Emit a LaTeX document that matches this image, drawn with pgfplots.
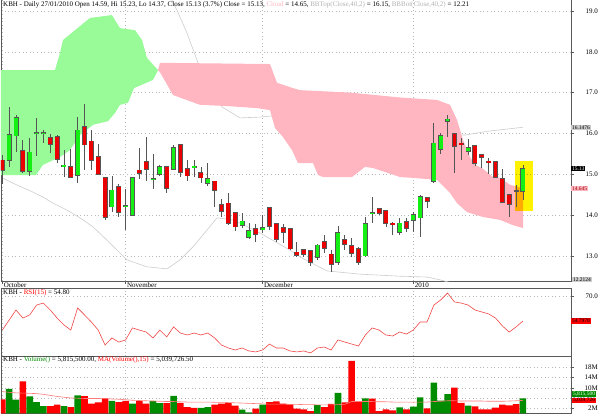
\documentclass[border=0pt]{standalone}
\usepackage{pgfplots}
\usepackage{pgfplotstable}
\pgfplotsset{compat=1.18}
\usepackage{fontspec}
\setmainfont{Liberation Serif}

\definecolor{cgreen}{RGB}{20,240,20}
\definecolor{cred}{RGB}{235,0,0}
\definecolor{vgreen}{RGB}{0,140,0}
\definecolor{vred}{RGB}{255,0,0}
\definecolor{cloudgreen}{RGB}{152,251,152}
\definecolor{cloudpink}{RGB}{255,182,193}
\definecolor{bbgray}{RGB}{205,205,205}
\definecolor{wick}{RGB}{85,85,85}
\definecolor{rsired}{RGB}{240,70,70}
\definecolor{mapink}{RGB}{255,120,120}

\newcommand\ttl{\fontsize{7}{8}\selectfont}
\newcommand\tagf{\fontsize{5.5}{6}\selectfont}

% i = trading day from early Oct 2009, o h l c = price, v = volume (M), vc = volume colour (1 up)
% r = RSI(15), m = MA(volume,15) in M
\pgfplotstableread{
i  o     h     l     c     v     vc r    m
0  15.34 15.47 14.76 15.10 5.4   0  49.3 8.5
1  15.34 16.65 15.18 15.96 9.6   1  55.4 8.2
2  15.94 16.45 15.54 16.38 5.3   1  61.5 8.0
3  15.57 15.84 15.03 15.08 12.5  0  56.6 7.9
4  15.08 15.89 14.96 15.54 6.6   1  58.5 7.8
5  16.00 16.38 15.45 16.02 4.4   1  64.5 7.7
6  16.00 16.08 15.76 16.02 2.8   1  65.7 7.4
7  15.89 15.99 15.52 15.74 2.8   0  61.5 7.0
8  15.91 15.96 15.27 15.37 3.4   0  56.6 6.6
9  15.20 15.59 14.93 15.22 2.8   1  52.4 6.3
10 15.18 15.62 14.92 14.93 2.45  0  49.3 6.0
11 14.98 16.40 14.78 16.08 7.0   1  62.7 5.9
12 16.16 16.72 15.10 15.72 6.7   0  58.5 5.8
13 15.81 16.08 15.10 15.35 3.75  0  54.2 5.8
14 15.42 15.74 14.98 15.00 4.3   0  49.3 5.8
15 14.91 14.93 13.88 13.95 5.8   0  40.2 5.7
16 14.20 14.96 14.07 14.61 4.9   1  44.5 5.6
17 14.69 14.76 13.95 14.07 4.4   0  42.0 5.5
18 14.22 14.64 13.63 14.23 4.9   0  43.3 5.3
19 14.00 14.93 13.99 14.91 3.75  1  50.6 5.1
20 15.10 15.64 14.88 15.03 4.9   0  49.3 5.0
21 15.30 15.91 14.83 15.13 3.75  0  48.1 4.9
22 14.88 15.50 14.64 14.89 4.9   1  44.5 4.8
23 15.00 15.23 14.96 15.18 4.0   1  49.3 4.7
24 15.18 15.19 14.54 14.66 4.0   0  45.1 4.6
25 15.13 15.72 15.10 15.64 6.8   1  51.2 4.6
26 15.72 15.73 14.93 15.05 4.1   0  47.5 4.5
27 15.13 15.35 14.83 14.96 2.45  0  46.3 4.4
28 15.17 15.35 14.93 15.19 2.1   0  47.5 4.4
29 15.03 15.18 14.78 14.91 2.1   1  46.3 4.4
30 14.78 15.27 14.71 14.88 2.45  1  47.5 4.4
31 14.83 14.84 14.20 14.61 3.4   0  44.5 4.3
32 14.25 14.39 13.95 14.10 3.75  0  40.2 4.3
33 14.29 14.54 13.75 13.80 4.0   0  38.4 4.2
34 14.05 14.06 13.61 13.71 3.0   0  37.2 4.1
35 13.75 14.05 13.68 13.85 1.4   1  38.4 4.0
36 13.46 13.80 13.41 13.61 0.4   1  36.6 3.9
37 13.66 13.78 13.34 13.53 1.8   0  36.0 3.8
38 13.64 14.00 13.56 13.68 3.4   1  37.2 3.7
39 14.17 14.20 13.63 13.73 4.4   0  40.8 3.6
40 13.78 13.80 13.34 13.41 4.65  0  38.4 3.6
41 13.68 13.78 13.31 13.58 3.75  0  38.4 3.6
42 13.66 13.68 13.14 13.17 3.5   0  36.6 3.5
43 13.09 13.34 12.97 13.02 1.8   0  36.0 3.5
44 13.14 13.17 12.97 13.04 1.55  0  36.6 3.4
45 13.12 13.14 12.75 12.85 0.9   0  35.4 3.4
46 12.97 13.29 12.90 13.26 3.2   1  38.4 3.3
47 13.34 13.51 13.07 13.19 2.45  0  39.0 3.3
48 13.04 13.14 12.60 12.80 3.7   0  37.2 3.3
49 12.85 13.73 12.78 13.56 8.0   1  43.3 3.4
50 13.39 13.51 13.14 13.29 4.3   0  42.0 3.5
51 13.24 13.44 12.97 13.07 20.5  0  40.8 4.6
52 13.17 13.22 12.78 12.85 4.65  0  39.6 4.6
53 13.00 13.95 12.97 13.78 5.8   1  46.3 4.6
54 14.05 14.44 13.80 14.06 5.7   0  50.6 4.6
55 14.15 14.17 14.00 14.05 0.9   0  49.3 4.5
56 14.10 14.10 13.71 13.80 1.55  0  46.3 4.5
57 13.80 13.83 13.51 13.78 1.16  0  45.7 4.4
58 13.58 13.93 13.51 13.80 2.3   1  48.1 4.4
59 13.83 13.93 13.58 13.68 1.55  0  46.9 4.4
60 13.88 14.07 13.58 14.00 2.6   1  49.3 4.4
61 13.93 14.49 13.46 14.44 6.2   1  54.2 4.4
62 14.42 14.44 14.17 14.34 1.9   0  54.2 4.4
63 14.83 16.25 14.78 15.76 12.0  1  64.5 4.6
64 15.62 16.01 15.50 15.94 5.0   1  67.6 4.7
65 16.30 16.45 15.91 16.35 7.5   1  71.8 4.9
66 15.99 16.00 15.03 15.69 10.0  0  66.4 4.9
67 15.76 15.89 15.35 15.74 4.1   0  65.7 4.8
68 15.57 15.86 15.47 15.64 3.0   1  64.5 4.8
69 15.69 15.70 15.20 15.27 2.7   0  61.5 4.8
70 15.47 15.50 15.15 15.42 1.55  0  60.3 4.8
71 15.32 15.40 15.00 15.30 1.55  0  59.1 4.7
72 15.30 15.32 14.91 14.93 2.2   0  56.6 4.7
73 14.88 15.13 14.29 14.32 3.4   0  51.8 4.7
74 14.49 14.51 13.95 14.27 3.1   0  48.1 4.8
75 14.59 14.74 14.20 14.59 3.6   0  51.2 4.9
76 14.59 15.23 14.37 15.13 5.82  1  54.8 5.04
}\kbh

\pgfplotsset{
  kbhpanel/.style={
    scale only axis, width=570pt, xmin=-0.19, xmax=83.02,
    anchor=north west,
    axis line style={gray!70!black, line width=0.5pt},
    tick align=outside, major tick length=3pt,
    tick style={gray!70!black, line width=0.4pt},
    xtick={0,18,38,60}, xmajorgrids, ymajorgrids,
    major grid style={gray!55, dash pattern=on 0.6pt off 3pt},
    ytick pos=right, xtick pos=bottom,
    yticklabel style={font=\ttl, anchor=east, inner sep=0pt, xshift=24pt},
  },
}

\begin{document}
\begin{tikzpicture}[x=1pt,y=1pt]
\useasboundingbox (0pt,0pt) rectangle (600pt,-416pt);

% price panel
\begin{axis}[kbhpanel, at={(1pt,1pt)}, height=282pt,
    ymin=12.382, ymax=19.294,
    ytick={13,14,...,19}, yticklabels={13.0,14.0,15.0,16.0,17.0,18.0,19.0},
    xticklabels={October,November,December,2010},
    xticklabel style={font=\ttl, anchor=north west, inner sep=0pt, xshift=1.3pt, yshift=1.5pt}]
% Bollinger bands (40,2)
\addplot[bbgray, line width=0.6pt] coordinates {
  (15,20.0) (22,19.6) (24.5,19.35) (25.5,19.02) (26.96,18.46) (28.57,17.73)
  (29.9,17.2) (31.05,16.94) (32.07,16.65) (34.7,16.38) (37.62,16.40) (39.52,16.43)
  (43.46,16.33) (50.76,16.2) (58.06,16.1) (63.9,15.97) (67.55,15.96) (71.2,16.06) (76.02,16.15)};
\addplot[bbgray, line width=0.6pt] coordinates {
  (0,14.91) (1.56,14.78) (4.48,14.56) (5.94,14.44) (7.4,14.29) (9.45,14.12)
  (11.34,13.93) (13.24,13.71) (15.72,13.31) (18.2,12.90) (21.12,12.73) (24.04,12.68)
  (25.94,12.90) (27.84,13.22) (29.88,13.63) (31.34,13.93) (33.68,13.88) (36.16,13.68)
  (37.62,13.56) (38.64,13.46) (42.0,13.14) (43.46,12.97) (47.4,12.63) (52.22,12.55)
  (58.06,12.50) (62.0,12.48) (63.9,12.41) (66.82,12.28) (76.02,12.21)};
% Ichimoku cloud
\addplot[fill=cloudgreen, draw=none] coordinates {
  (-0.34,17.55) (7.69,17.55) (8.42,17.97) (8.86,18.29) (10.32,18.49) (12.8,18.83)
  (16.01,18.90) (17.18,18.58) (19.37,18.53) (20.39,18.29) (21.12,17.85) (22.73,17.55)
  (22.0,17.31) (19.23,17.11) (18.35,16.75) (17.18,16.70) (16.45,16.50) (15.43,16.30)
  (13.24,16.21) (11.34,15.96) (9.88,15.59) (8.42,15.42) (5.94,15.23) (4.92,14.98)
  (-0.34,14.98)} -- cycle;
\addplot[fill=cloudpink, draw=none] coordinates {
  (22.73,17.55) (23.02,17.73) (39.08,17.70) (40.1,17.24) (42.44,17.11) (43.46,17.06)
  (50.8,17.0) (58.06,16.88) (63.46,16.82) (65.36,16.70) (66.38,16.33) (67.26,15.84)
  (68.28,15.42) (69.01,15.23) (70.03,15.15) (71.64,14.93) (72.66,14.91) (74.12,14.74)
  (74.85,14.71) (76.02,14.65)
  (76.02,13.68) (74.56,13.75) (72.66,13.88) (70.18,13.95) (67.84,14.07) (66.38,14.29)
  (65.36,14.54) (63.46,14.86) (59.96,14.91) (58.06,14.93) (54.12,15.15) (52.95,15.18)
  (51.05,14.93) (46.82,14.93) (46.09,14.98) (45.36,15.27) (43.17,15.27) (42.29,15.59)
  (40.98,15.91) (39.81,16.13) (39.08,16.57) (37.18,16.62) (32.8,16.67) (28.86,16.70)
  (24.92,16.94) (23.02,17.50)} -- cycle;
% highlight
\addplot[fill=yellow, draw=none, blend mode=multiply] coordinates {
  (74.85,14.10) (77.48,14.10) (77.48,15.32) (74.85,15.32)} -- cycle;
% wicks
\addplot[draw=none, mark=none, error bars/.cd, y dir=both, y explicit, error mark=none,
    error bar style={draw=wick, line width=0.8pt}]
  table[x=i, y expr={(\thisrow{h}+\thisrow{l})/2}, y error expr={(\thisrow{h}-\thisrow{l})/2}] {\kbh};
% bodies: outline, then fill
\addplot[draw=none, mark=none, error bars/.cd, y dir=both, y explicit, error mark=none,
    error bar style={draw=wick, line width=5pt}]
  table[x=i, y expr={(\thisrow{o}+\thisrow{c})/2}, y error expr={abs(\thisrow{c}-\thisrow{o})/2+0.015}] {\kbh};
\addplot[draw=none, mark=none, restrict expr to domain={\thisrow{c}-\thisrow{o}}{0:100},
    error bars/.cd, y dir=both, y explicit, error mark=none,
    error bar style={draw=cgreen, line width=3.8pt}]
  table[x=i, y expr={(\thisrow{o}+\thisrow{c})/2}, y error expr={abs(\thisrow{c}-\thisrow{o})/2}] {\kbh};
\addplot[draw=none, mark=none, restrict expr to domain={\thisrow{o}-\thisrow{c}}{0.0001:100},
    error bars/.cd, y dir=both, y explicit, error mark=none,
    error bar style={draw=cred, line width=3.8pt}]
  table[x=i, y expr={(\thisrow{o}+\thisrow{c})/2}, y error expr={abs(\thisrow{c}-\thisrow{o})/2}] {\kbh};
\coordinate (bbt) at (axis cs:83.02,16.1476);
\coordinate (cls) at (axis cs:83.02,15.13);
\coordinate (cld) at (axis cs:83.02,14.645);
\end{axis}

% RSI panel
\begin{axis}[kbhpanel, at={(1pt,-288pt)}, height=68pt,
    ymin=33.53, ymax=74.86, ytick={70}, yticklabels={70.0},
    xticklabels={}, xtick style={draw=none}]
\addplot[rsired, line width=0.6pt] table[x=i, y=r] {\kbh};
\coordinate (rsit) at (axis cs:83.02,54.7978);
\end{axis}

% volume panel
\begin{axis}[kbhpanel, at={(1pt,-356pt)}, height=57.3pt,
    ymin=0, ymax=22.4, ytick={2,6,10,14,18}, yticklabels={2M,,10M,14M,18M},
    xticklabels={}, xtick style={draw=none}]
\addplot[ybar, bar width=6.6pt, bar shift=0pt, fill=vgreen, draw=none,
    restrict expr to domain={\thisrow{vc}}{0.5:1.5}] table[x=i, y=v] {\kbh};
\addplot[ybar, bar width=6.6pt, bar shift=0pt, fill=vred, draw=none,
    restrict expr to domain={\thisrow{vc}}{-0.5:0.5}] table[x=i, y=v] {\kbh};
\addplot[mapink, line width=0.6pt] table[x=i, y=m] {\kbh};
\end{axis}

% titles
\node[anchor=west, inner sep=0pt, font=\ttl] at (3pt,-4.5pt)
  {KBH - Daily 27/01/2010 Open 14.59, Hi 15.23, Lo 14.37, Close 15.13 (3.7\%) Close = 15.13, \textcolor{cloudpink}{Cloud} = 14.65, \textcolor{gray!60}{BBTop(Close,40,2)} = 16.15, \textcolor{gray!60}{BBBot(Close,40,2)} = 12.21};
\node[anchor=west, inner sep=0pt, font=\ttl] at (3pt,-293pt)
  {KBH - \textcolor{red}{RSI(15)} = 54.80};
\node[anchor=west, inner sep=0pt, font=\ttl] at (3pt,-359.5pt)
  {KBH - \textcolor{vgreen}{Volume()} = 5,815,500.00, \textcolor{red}{MA(Volume(),15)} = 5,039,726.50};

% value tags on the right
\tikzset{tag/.style={anchor=west, font=\tagf, inner xsep=0.8pt, inner ysep=0.7pt}}
\node[tag, fill=gray!40] at (bbt) {16.1476};
\node[tag, fill=black, text=white] at (cls) {15.13};
\node[tag, fill=cloudpink, text=red!60!black] at (cld) {14.645};
\node[tag, fill=gray!40] at (572pt,-279.5pt) {12.2124};
\node[tag, fill=vred] at (rsit) {54.7978};
\node[tag, fill=vgreen, text=white] at (572pt,-394pt) {5,815,500};
\node[tag, fill=vred] at (572pt,-400.5pt) {5,039,726};
\end{tikzpicture}
\end{document}
